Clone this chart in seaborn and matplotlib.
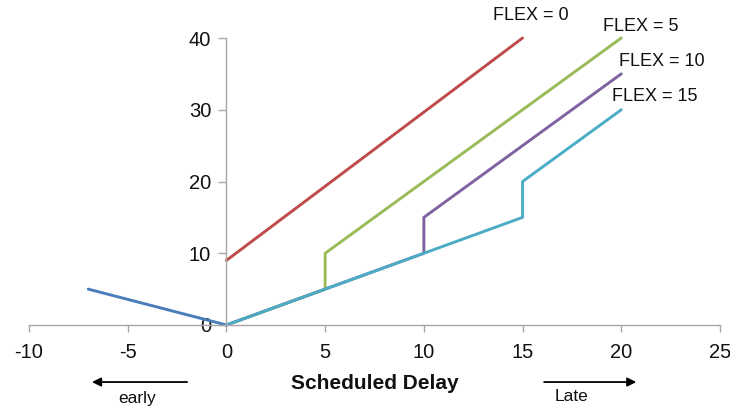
import matplotlib
matplotlib.use("Agg")
import matplotlib.pyplot as plt
import seaborn as sns
import pandas as pd

# ---- data ----
early_x = [-7, 0]
early_y = [5, 0]
flex0_x = [0, 15]
flex0_y = [9, 40]
flex5_x = [0, 5, 5, 20]
flex5_y = [0, 5, 10, 40]
flex10_x = [0, 10, 10, 20]
flex10_y = [0, 10, 15, 35]
flex15_x = [0, 15, 15, 20]
flex15_y = [0, 15, 20, 30]

series_names = ["early", "FLEX = 0", "FLEX = 5", "FLEX = 10", "FLEX = 15"]
series_x = [early_x, flex0_x, flex5_x, flex10_x, flex15_x]
series_y = [early_y, flex0_y, flex5_y, flex10_y, flex15_y]
colors = ["#4A7EBB", "#BE4B48", "#9BBB59", "#7F63A1", "#4BACC6"]

x_ticks = [-10, -5, 0, 5, 10, 15, 20, 25]
y_ticks = [0, 10, 20, 30, 40]

rows = []
for name, xs, ys in zip(series_names, series_x, series_y):
    for i, (xv, yv) in enumerate(zip(xs, ys)):
        rows.append({"series": name, "x": xv, "y": yv, "order": i})
df = pd.DataFrame(rows)

sns.set_theme(style="white")
plt.rcParams["font.family"] = ["Liberation Sans", "DejaVu Sans"]

fig = plt.figure(figsize=(7.3, 4.12), dpi=100)
ax = fig.add_axes([29 / 730, (412 - 325) / 412, (720 - 29) / 730, (325 - 38) / 412])

for name, col in zip(series_names, colors):
    sub = df[df["series"] == name]
    sns.lineplot(data=sub, x="x", y="y", sort=False, estimator=None,
                 color=col, linewidth=2.1, ax=ax, legend=False, clip_on=False)

axis_col = "#A6A6A6"
for s in ["top", "right"]:
    ax.spines[s].set_visible(False)
ax.spines["left"].set_position(("data", 0))
ax.spines["left"].set_color(axis_col)
ax.spines["bottom"].set_color(axis_col)
ax.spines["left"].set_linewidth(1.0)
ax.spines["bottom"].set_linewidth(1.0)

ax.set_xlim(-10, 25)
ax.set_ylim(0, 40)
ax.set_xticks(x_ticks)
ax.set_yticks(y_ticks)
ax.set_xticklabels([str(t) for t in x_ticks])
ax.set_yticklabels([str(t) for t in y_ticks])
ax.tick_params(axis="x", bottom=True, direction="out", length=5, width=1, color=axis_col,
               pad=8, labelsize=14.5, labelcolor="#111111")
ax.tick_params(axis="y", left=True, direction="out", length=6, width=1, color=axis_col,
               pad=5, labelsize=14.5, labelcolor="#111111")

ax.set_xlabel("Scheduled Delay", fontsize=15, fontweight="bold", color="#111111")
ax.xaxis.set_label_coords(0.5, -0.17)
ax.set_ylabel("")

# series labels
labels_pos = {"FLEX = 0": (13.5, 43.1), "FLEX = 5": (19.05, 41.6),
              "FLEX = 10": (19.9, 36.7), "FLEX = 15": (19.55, 31.9)}
for name, (tx, ty) in labels_pos.items():
    ax.text(tx, ty, name, fontsize=13, ha="left", va="center", color="#111111", clip_on=False)

# direction arrows
ax.annotate("", xy=(-6.95, -7.95), xytext=(-1.85, -7.95), xycoords="data",
            arrowprops=dict(arrowstyle="-|>", color="black", lw=1.3, mutation_scale=13),
            annotation_clip=False)
ax.text(-4.5, -10.2, "early", fontsize=12.5, ha="center", va="center", color="#111111")
ax.annotate("", xy=(20.9, -7.95), xytext=(15.95, -7.95), xycoords="data",
            arrowprops=dict(arrowstyle="-|>", color="black", lw=1.3, mutation_scale=13),
            annotation_clip=False)
ax.text(17.5, -10.0, "Late", fontsize=12.5, ha="center", va="center", color="#111111")

fig.savefig("out.png", dpi=100)
